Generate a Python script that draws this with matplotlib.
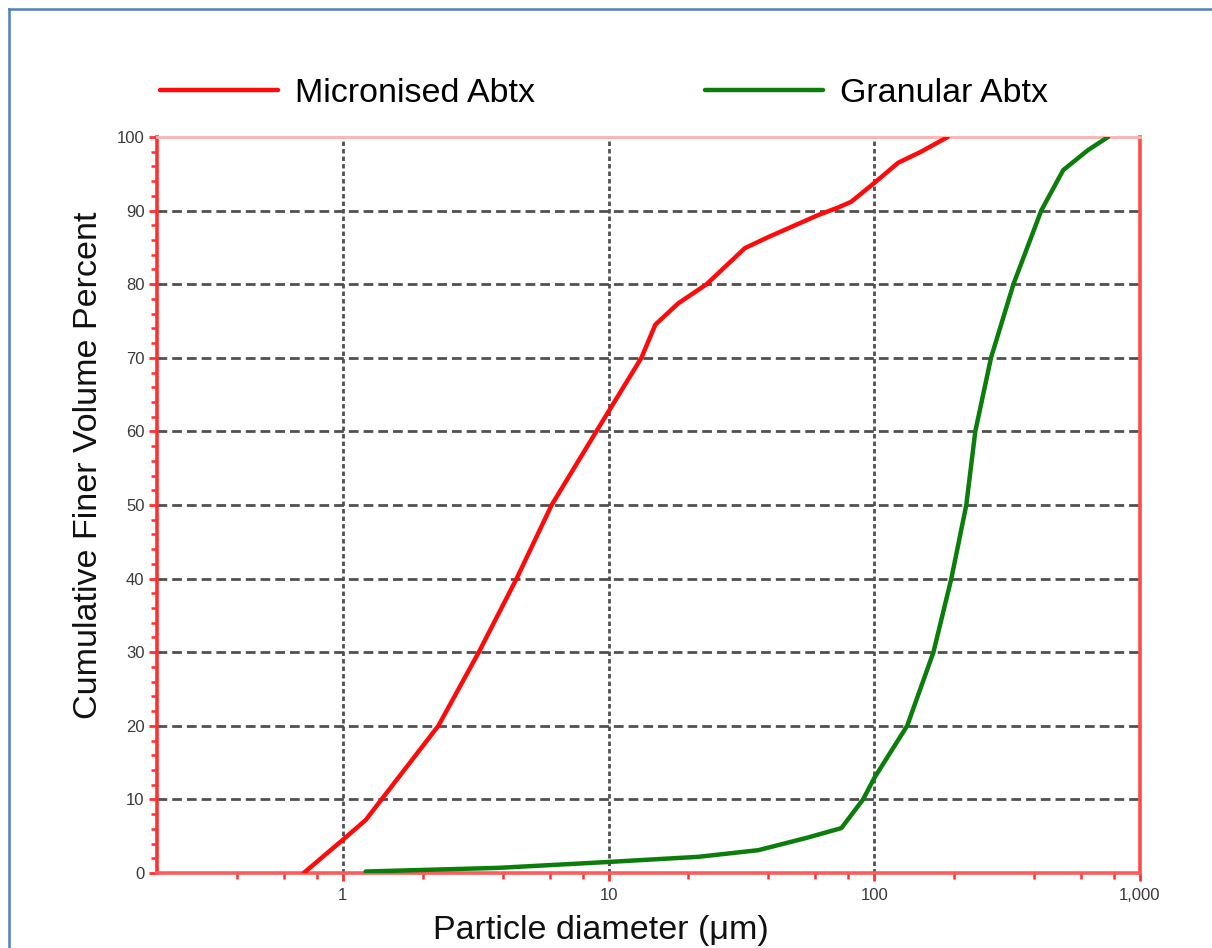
import matplotlib
matplotlib.use("Agg")
import matplotlib.pyplot as plt
from matplotlib.lines import Line2D
from matplotlib.ticker import FixedLocator, FixedFormatter, NullFormatter

plt.rcParams['font.family'] = ['Liberation Sans', 'DejaVu Sans']
plt.rcParams['lines.scale_dashes'] = False

# ---- data ----
micronised_x = [0.713, 1.0, 1.22, 1.40, 2.29, 3.25, 4.51, 6.11, 9.0, 13.3, 15.0, 18.3,
                23.4, 32.6, 39.9, 61.6, 72.9, 81.9, 100, 123, 150, 189]
micronised_y = [0, 4.5, 7.2, 10, 20, 30, 40, 50, 60, 70, 74.5, 77.4,
                80, 84.9, 86.4, 89.4, 90.4, 91.2, 93.75, 96.5, 98, 100]

granular_x = [1.22, 3.86, 10, 21.8, 36.6, 56, 75.2, 90.8, 100, 133, 167, 195, 222,
              240, 275, 334, 425, 514, 636, 758]
granular_y = [0.2, 0.7, 1.5, 2.2, 3.1, 4.8, 6.1, 10, 12.9, 20, 30, 40, 50,
              60, 70, 80, 90, 95.5, 98.2, 100]

x_major = [1, 10, 100, 1000]
x_major_labels = ["1", "10", "100", "1,000"]
x_minor = [0.4, 0.6, 0.8, 2, 4, 6, 8, 20, 40, 60, 80, 200, 400, 600, 800]
y_major = list(range(0, 101, 10))
y_minor = list(range(0, 101, 2))

series_names = ["Micronised Abtx", "Granular Abtx"]
series_colors = ["#ff0a0a", "#0a7d0a"]

# ---- figure ----
fig = plt.figure(figsize=(12.12, 9.48), dpi=100)
ax = fig.add_axes([157/1212, 75/948, (1140-157)/1212, (873-137)/948])

ax.set_xscale('log')
ax.set_xlim(0.2, 1000)
ax.set_ylim(0, 100)

l1, = ax.plot(micronised_x, micronised_y, color=series_colors[0], lw=3.2,
              solid_capstyle='round', solid_joinstyle='round', zorder=3)
l2, = ax.plot(granular_x, granular_y, color=series_colors[1], lw=3.2,
              solid_capstyle='round', solid_joinstyle='round', zorder=3)

# grid
for xv in [1, 10, 100]:
    ax.axvline(xv, color='#505050', lw=2.0, linestyle=(0, (3.2, 2.2)), zorder=1)
for yv in range(10, 100, 10):
    ax.axhline(yv, color='#505050', lw=2.0, linestyle=(0, (7.0, 3.6)), zorder=1)

# ticks
ax.xaxis.set_major_locator(FixedLocator(x_major))
ax.xaxis.set_major_formatter(FixedFormatter(x_major_labels))
ax.xaxis.set_minor_locator(FixedLocator(x_minor))
ax.xaxis.set_minor_formatter(NullFormatter())
ax.yaxis.set_major_locator(FixedLocator(y_major))
ax.yaxis.set_minor_locator(FixedLocator(y_minor))

ax.tick_params(axis='both', which='major', direction='out', length=6, width=2,
               color='#ff3030', labelsize=12, labelcolor='#3a3a3a', pad=3)
ax.tick_params(axis='both', which='minor', direction='out', length=4, width=1.8,
               color='#ff3030')
ax.tick_params(axis='x', which='major', pad=5)

# spines
ax.spines['left'].set_color('#ff3030')
ax.spines['left'].set_linewidth(2.6)
ax.spines['right'].set_color('#ff4a4a')
ax.spines['right'].set_linewidth(2.6)
ax.spines['bottom'].set_color('#ff5a5a')
ax.spines['bottom'].set_linewidth(2.6)
ax.spines['top'].set_color('#ffb0b0')
ax.spines['top'].set_linewidth(2.0)

ax.set_xlabel("Particle diameter (μm)", fontsize=24.5, color='#111111', va='top')
ax.xaxis.set_label_coords((601 - 157) / 983, -(915 - 873) / 736)
ax.set_ylabel("Cumulative Finer Volume Percent", fontsize=24.5, color='#111111',
              va='center')
ax.yaxis.set_label_coords((88 - 157) / 983, (873 - 465) / 736)

# legend
fig.legend([l1, l2], series_names, loc='center left',
           bbox_to_anchor=(160/1212, 1 - 93/948), ncol=2, frameon=False,
           fontsize=24.5, handlelength=3.47, handletextpad=0.5, columnspacing=5.0,
           borderpad=0, borderaxespad=0)

# blue page border (top and left)
fig.add_artist(Line2D([8.5/1212, 1.0], [1 - 8.5/948, 1 - 8.5/948],
                      transform=fig.transFigure, color='#4f7fc6', lw=1.8))
fig.add_artist(Line2D([8.5/1212, 8.5/1212], [0, 1 - 8.5/948],
                      transform=fig.transFigure, color='#4f7fc6', lw=1.8))

fig.savefig("out.png", dpi=100, facecolor='white')
